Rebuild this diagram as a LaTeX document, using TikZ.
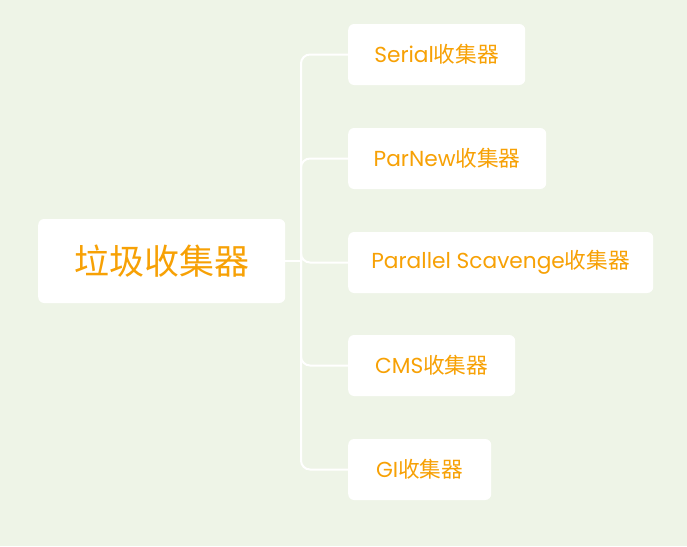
\documentclass[tikz,border=0pt]{standalone}
\usepackage{fontspec}
\setmainfont{Poppins}
\newfontfamily\cjk{Noto Sans CJK SC}
\newfontfamily\lat{Poppins}
\definecolor{bgc}{HTML}{EEF4E7}
\definecolor{txc}{HTML}{F7A105}
\begin{document}
\begin{tikzpicture}[x=1pt,y=-1pt,
  box/.style={fill=white,rounded corners=6pt,inner sep=0pt,minimum height=61pt,text=txc,anchor=west},
  leaf/.style={box,font=\fontsize{21.7}{26}\selectfont},
  conn/.style={draw=white,line width=2pt,rounded corners=9pt}]
\fill[bgc] (0,0) rectangle (687,546);
\useasboundingbox (0,0) rectangle (687,546);
\node[box,minimum width=247pt,minimum height=84pt,font=\fontsize{35}{40}\selectfont] (main) at (38,261) {\cjk 垃圾收集器};
\node[leaf,minimum width=177pt] (s) at (348,54.5) {\lat Serial\cjk 收集器};
\node[leaf,minimum width=198pt] (p) at (348,158.5) {\lat ParNew\cjk 收集器};
\node[leaf,minimum width=305pt] (ps) at (348,262.5) {\lat Parallel Scavenge\cjk 收集器};
\node[leaf,minimum width=167pt] (c) at (348,365.5) {\lat CMS\cjk 收集器};
\node[leaf,minimum width=143pt] (g) at (348,469.5) {\lat GI\cjk 收集器};
\coordinate (j) at (301,261);
\draw[conn] (main.east) -- (j);
\foreach \n in {s,p,ps,c,g}{\draw[conn] (j) |- (\n.west);}
\end{tikzpicture}
\end{document}
